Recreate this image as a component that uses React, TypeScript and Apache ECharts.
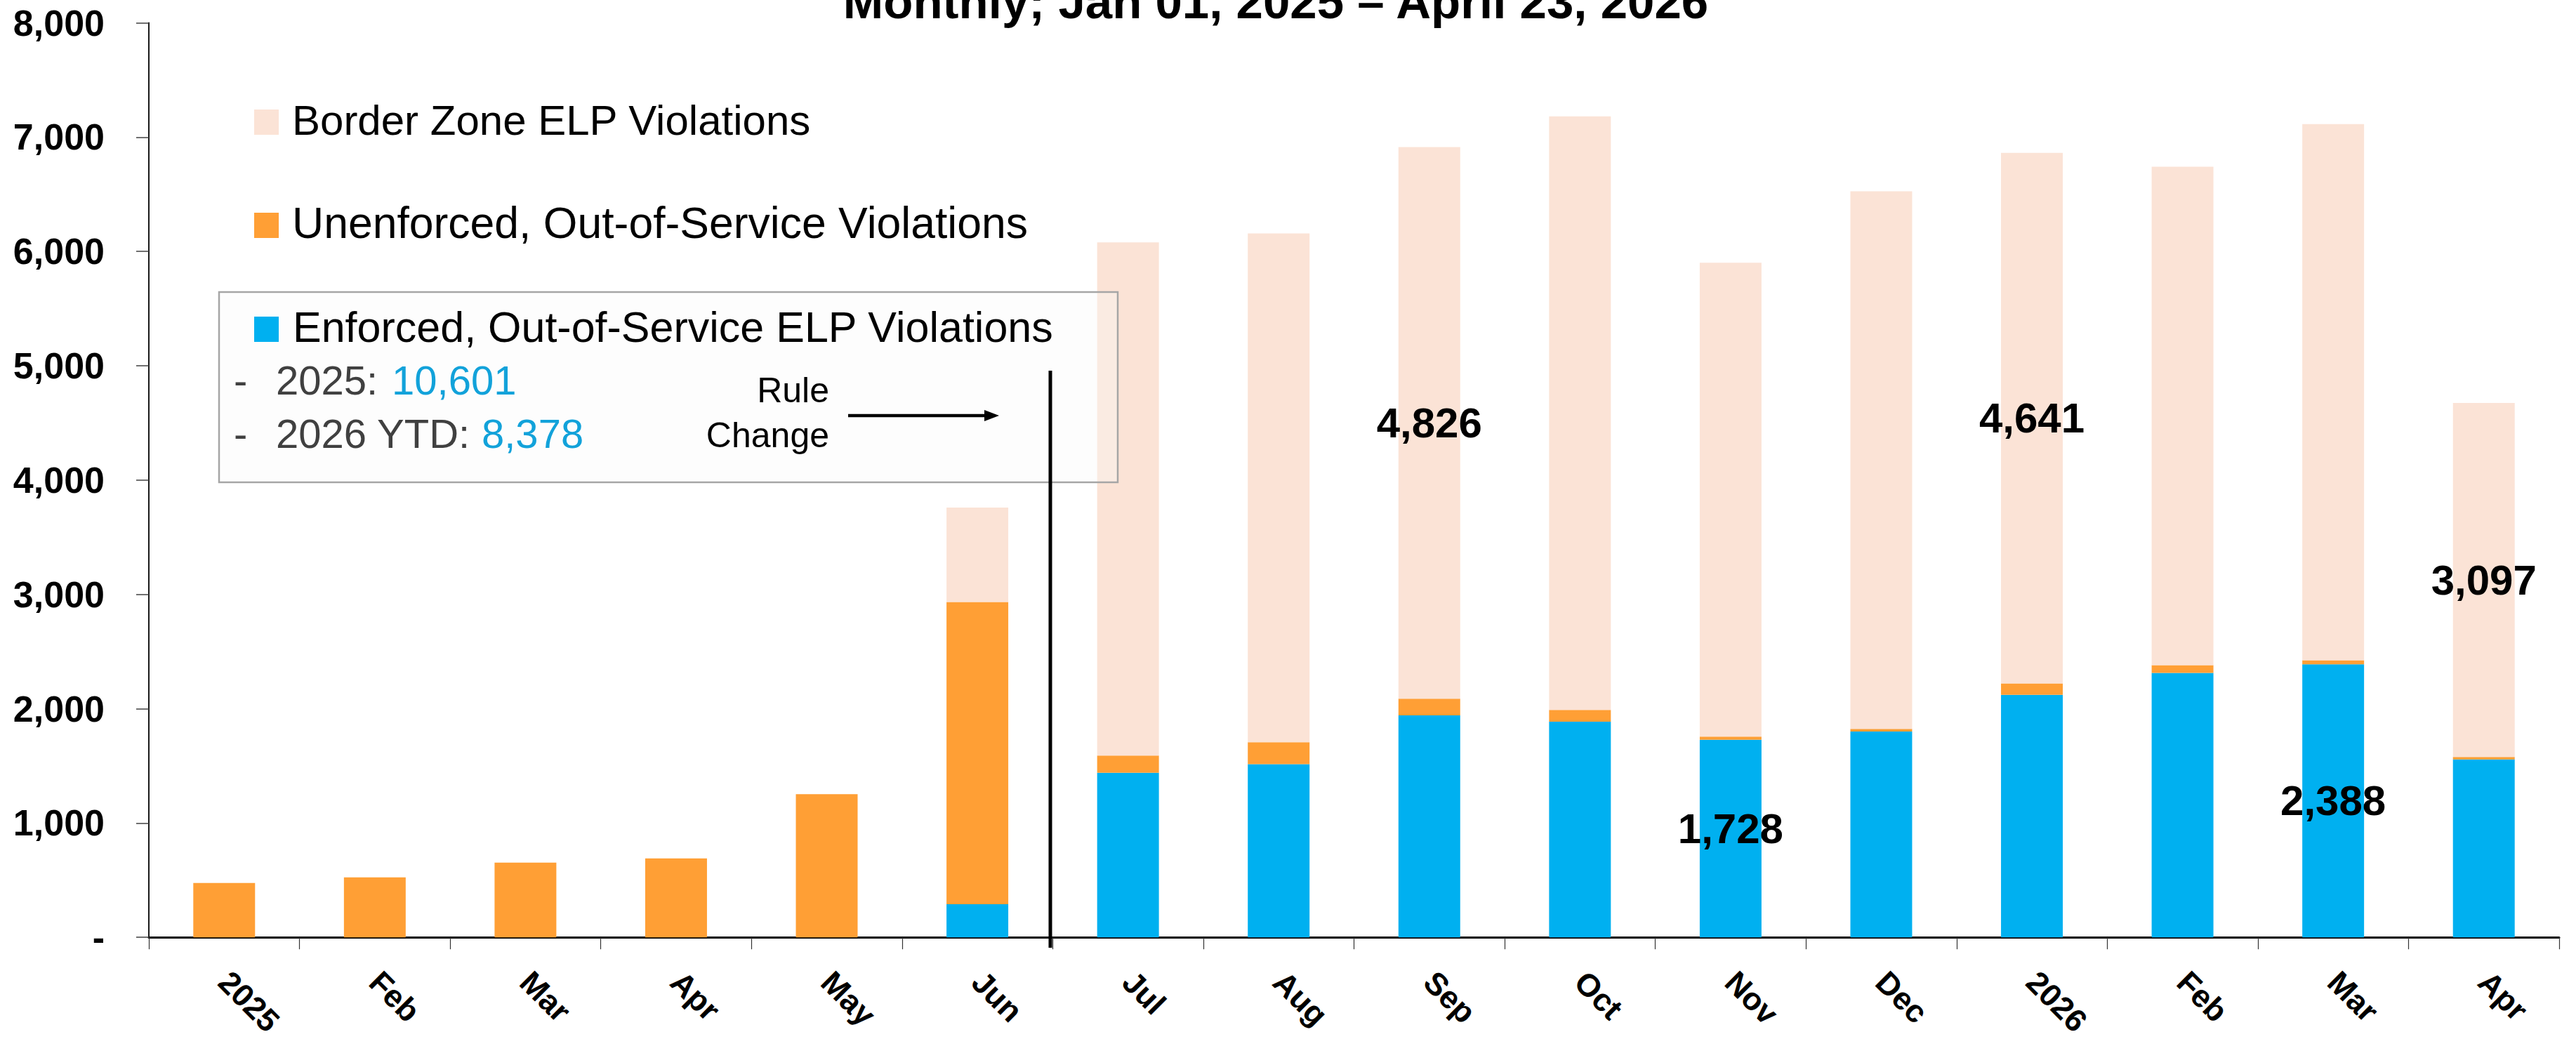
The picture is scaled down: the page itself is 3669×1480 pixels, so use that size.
import React, { useEffect, useRef } from "react";
import * as echarts from "echarts";

const categories = ["2025", "Feb", "Mar", "Apr", "May", "Jun", "Jul", "Aug", "Sep", "Oct", "Nov", "Dec", "2026", "Feb", "Mar", "Apr"];
const enforced = [0, 0, 0, 0, 0, 290, 1440, 1515, 1942, 1886, 1728, 1800, 2121, 2313, 2388, 1556];
const unenforced = [475, 524, 653, 690, 1253, 2643, 150, 192, 145, 103, 28, 23, 100, 68, 36, 22];
const borderZone = [0, 0, 0, 0, 0, 827, 4489, 4451, 4826, 5193, 4145, 4703, 4641, 4360, 4690, 3097];
const enforcedLabeled = [10, 14];
const borderLabeled = [8, 12, 15];
const seriesNames = [
  "Enforced, Out-of-Service ELP Violations",
  "Unenforced, Out-of-Service Violations",
  "Border Zone ELP Violations",
];
const total2025 = "10,601";
const total2026 = "8,378";
const titleText = "Monthly; Jan 01, 2025 \u2013 April 23, 2026";

const BLUE = "#00B0F0";
const ORANGE = "#FF9F35";
const PEACH = "#FBE3D6";
const FONT = "Liberation Sans, Arial, sans-serif";
const C = 0.3465; // central-baseline offset

function fmt(v: number) {
  return v.toLocaleString("en-US");
}

export default function App() {
  const ref = useRef<HTMLDivElement>(null);
  useEffect(() => {
    document.body.style.margin = "0";
    document.body.style.overflow = "hidden";
    const chart = echarts.init(ref.current!, null, { renderer: "svg" });
    const labelStyle = {
      position: "inside",
      color: "#000",
      fontWeight: "bold",
      fontSize: 60,
      fontFamily: FONT,
      formatter: (p: any) => fmt(p.value),
    };
    const labelOffsets: Record<number, number[]> = { 10: [0, -14] };
    const mk = (arr: number[], labeled: number[]) =>
      arr.map((v, i) => ({
        value: v,
        label: { show: labeled.includes(i), offset: labelOffsets[i] || [0, 0] },
      }));

    const txt = (text: string, x: number, baseline: number, fs: number, opts: any = {}) => ({
      type: "text",
      x,
      y: baseline - C * fs,
      z: 100,
      style: {
        text,
        fontSize: fs,
        fontFamily: FONT,
        fill: opts.fill || "#000",
        fontWeight: opts.bold ? "bold" : "normal",
        align: opts.align || "left",
        verticalAlign: "middle",
      },
    });
    const sq = (x: number, baseline: number, color: string) => ({
      type: "rect",
      z: 100,
      shape: { x, y: baseline - 36, width: 35, height: 36 },
      style: { fill: color },
    });

    chart.setOption({
      animation: false,
      backgroundColor: "#fff",
      grid: { left: 212, right: 24, top: 32.5, bottom: 142.5, containLabel: false },
      xAxis: {
        type: "category",
        data: categories,
        axisLine: { lineStyle: { color: "#000", width: 3 } },
        axisTick: { show: true, length: 17, lineStyle: { color: "#333", width: 1.2 } },
        axisLabel: {
          rotate: -45,
          margin: 56,
          interval: 0,
          color: "#000",
          fontWeight: "bold",
          fontSize: 45,
          fontFamily: FONT,
        },
      },
      yAxis: {
        type: "value",
        min: 0,
        max: 8000,
        interval: 1000,
        splitLine: { show: false },
        axisLine: { show: true, lineStyle: { color: "#1a1a1a", width: 2 } },
        axisTick: { show: true, length: 18, lineStyle: { color: "#404040", width: 1.5 } },
        axisLabel: {
          margin: 63,
          color: "#000",
          fontWeight: "bold",
          fontSize: 52,
          fontFamily: FONT,
          formatter: (v: number) => (v === 0 ? "-" : fmt(v)),
        },
      },
      series: [
        {
          name: seriesNames[0],
          type: "bar",
          stack: "total",
          barWidth: "41%",
          itemStyle: { color: BLUE },
          label: labelStyle,
          data: mk(enforced, enforcedLabeled),
        },
        {
          name: seriesNames[1],
          type: "bar",
          stack: "total",
          barWidth: "41%",
          itemStyle: { color: ORANGE },
          label: { show: false },
          data: unenforced,
        },
        {
          name: seriesNames[2],
          type: "bar",
          stack: "total",
          barWidth: "41%",
          itemStyle: { color: PEACH },
          label: labelStyle,
          data: mk(borderZone, borderLabeled),
        },
      ],
      graphic: [
        txt(titleText, 1817, 26, 69, { bold: true, align: "center" }),
        // legend entries
        sq(362, 192, PEACH),
        txt(seriesNames[2], 416, 192, 60),
        sq(362, 339, ORANGE),
        txt(seriesNames[1], 416, 339, 62.5),
        {
          type: "rect",
          z: 90,
          shape: { x: 312, y: 416, width: 1280, height: 271 },
          style: { fill: "rgba(248,248,248,0.35)", stroke: "#A6A6A6", lineWidth: 2.5 },
        },
        sq(362, 487, BLUE),
        txt(seriesNames[0], 417, 487, 61),
        txt("-", 333, 562, 58, { fill: "#404040" }),
        txt("2025: ", 393, 562, 58, { fill: "#404040" }),
        txt(total2025, 558, 562, 58, { fill: "#12A2DA" }),
        txt("-", 333, 638, 58, { fill: "#404040" }),
        txt("2026 YTD: ", 393, 638, 58, { fill: "#404040" }),
        txt(total2026, 686, 638, 58, { fill: "#12A2DA" }),
        txt("Rule", 1181, 573, 50, { align: "right" }),
        txt("Change", 1181, 637, 50, { align: "right" }),
        {
          type: "line",
          z: 100,
          shape: { x1: 1208, y1: 592, x2: 1406, y2: 592 },
          style: { stroke: "#000", lineWidth: 4.5 },
        },
        {
          type: "polygon",
          z: 100,
          shape: { points: [[1402, 584], [1423, 592], [1402, 600]] },
          style: { fill: "#000" },
        },
        {
          type: "line",
          z: 100,
          shape: { x1: 1496, y1: 528, x2: 1496, y2: 1350 },
          style: { stroke: "#000", lineWidth: 5 },
        },
      ],
    });
    return () => chart.dispose();
  }, []);
  return <div ref={ref} style={{ width: 3669, height: 1480 }} />;
}
